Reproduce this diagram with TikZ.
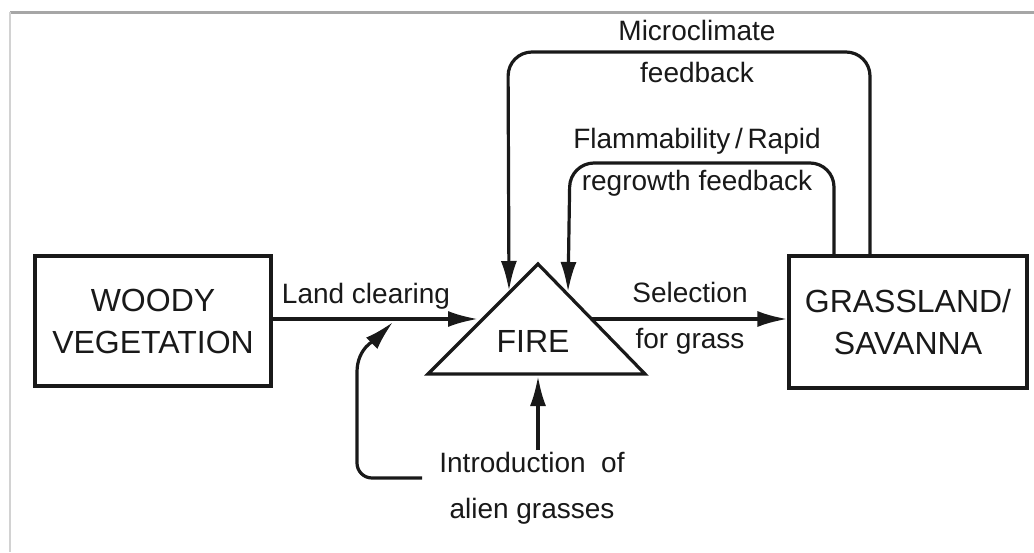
\documentclass[tikz,border=0pt]{standalone}
\usepackage{fontspec}
\setmainfont{Liberation Sans}
\usetikzlibrary{arrows.meta}
\definecolor{ink}{gray}{0.1}
\tikzset{
  box/.style={draw=ink, line width=1.6pt, minimum width=118pt, minimum height=65pt, align=center, font=\fontsize{16}{21}\selectfont, text=ink, inner sep=0pt},
  lbl/.style={font=\fontsize{14}{19}\selectfont, text=ink, align=center, inner sep=0pt},
  conn/.style={draw=ink, line width=1.6pt},
  arr/.style={conn, -{Latex[length=15pt,width=8pt]}},
}
\begin{document}
\begin{tikzpicture}[x=0.5pt, y=-0.5pt]
\useasboundingbox (0,0) rectangle (1034,552);
\fill[white] (0,0) rectangle (1034,552);
% page borders
\draw[gray!70, line width=1.5pt] (10,12) -- (1034,12);
\draw[gray!35, line width=0.6pt] (10,12) -- (10,552);

% nodes
\node[box] (woody) at (153,321) {WOODY\\VEGETATION};
\node[box, minimum width=119pt, minimum height=66pt] (grass) at (908,322) {GRASSLAND/\\SAVANNA};
\draw[conn, line join=miter] (428,374) -- (538,264) -- (645,374) -- cycle;
\node[font=\fontsize{16}{21}\selectfont, text=ink, inner sep=0pt] (fire) at (533,341) {FIRE};
\coordinate (fireL) at (478,319);
\coordinate (fireR) at (592,319);
\coordinate (fireB) at (538,376);
\coordinate (tipM) at (509,291);
\coordinate (tipF) at (568,292);
\coordinate (tipA) at (393,322);
\coordinate (mc) at (870,52);
\coordinate (fl) at (834,163);

% labels
\node[lbl] (lland) at (366,296) {Land clearing};
\node[lbl] (lsel) at (690,318) {Selection\\[4pt]for grass};
\node[lbl] (lmic) at (697,51) {Microclimate\\[2pt]feedback};
\node[lbl] (lfla) at (697,162) {Flammability\,/\,Rapid\\[2pt]regrowth feedback};
\node[lbl] (lint) at (532,488) {Introduction\ \ of\\[4pt]alien grasses};
\coordinate (intoL) at (422,478);

% connectors
\draw[arr] (woody.east |- fireL) -- (fireL);
\draw[arr] (fireR) -- (grass.west |- fireR);
\draw[arr, rounded corners=12pt] (grass.north -| mc) -- (mc) -- (508,52) -- (tipM);
\draw[arr, rounded corners=12pt] (grass.north -| fl) -- (fl) -- (570,163) -- (tipF);
\draw[arr] (538,450) -- (fireB);
\draw[arr] (intoL) -- (372,478) to[out=180,in=-90] (357,463) -- (357,372) to[out=90,in=-135] (tipA);
\end{tikzpicture}
\end{document}
